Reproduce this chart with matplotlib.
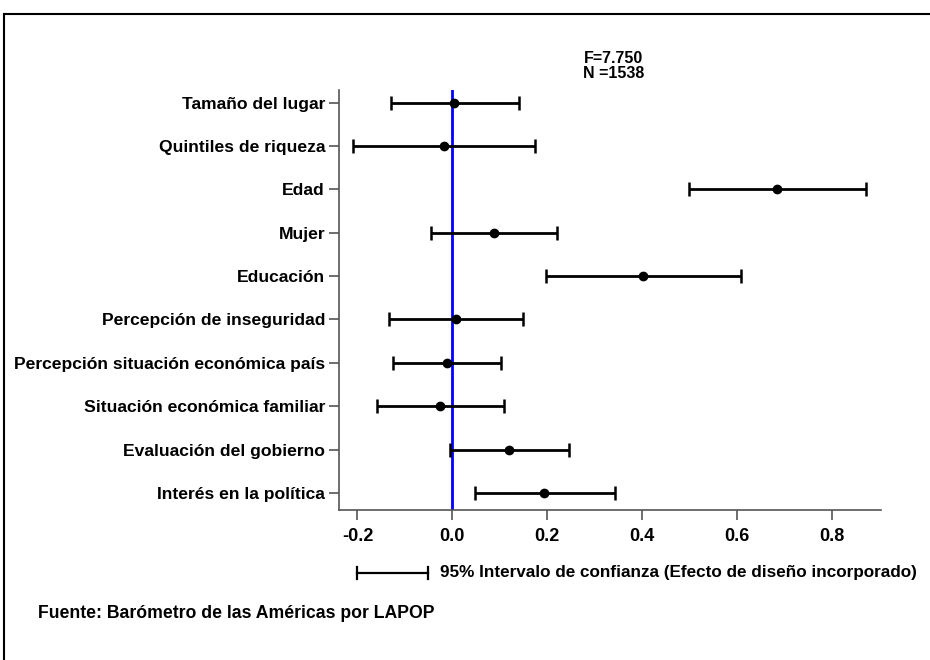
import numpy as np
import matplotlib as mpl; mpl.use('Agg'); import matplotlib.pyplot as plt
from matplotlib.lines import Line2D
mpl.rcParams.update({'font.family':['Liberation Sans','DejaVu Sans'],'font.weight':'bold'})

labels=['Tamaño del lugar','Quintiles de riqueza','Edad','Mujer','Educación',
        'Percepción de inseguridad','Percepción situación económica país',
        'Situación económica familiar','Evaluación del gobierno','Interés en la política']
coef=[0.004,-0.017,0.685,0.087,0.402,0.007,-0.012,-0.026,0.119,0.194]
lower=[-0.130,-0.210,0.498,-0.044,0.197,-0.133,-0.125,-0.158,-0.004,0.048]
upper=[0.140,0.175,0.873,0.221,0.609,0.148,0.103,0.108,0.245,0.343]
xticks=[-0.2,0.0,0.2,0.4,0.6,0.8]

fig=plt.figure(figsize=(9.3,6.6),dpi=100)
ax=fig.add_axes([0.3645,0.227,0.5825,0.637])
y=np.arange(1,len(labels)+1)
c=np.array(coef); err=[c-np.array(lower),np.array(upper)-c]
ax.axvline(0,color='#0000ff',lw=2,zorder=1)
ax.errorbar(c,y,xerr=err,fmt='o',color='black',ms=6,elinewidth=2,capsize=5,capthick=1.8,zorder=3)
ax.set_xlim(-0.239,0.903); ax.set_ylim(10.4,0.7)
ax.set_yticks(y); ax.set_yticklabels(labels,fontsize=12.6)
ax.set_xticks(xticks); ax.set_xticklabels([f'{v:.1f}' for v in xticks],fontsize=13)
for s in ['top','right']: ax.spines[s].set_visible(False)
for s in ['left','bottom']: ax.spines[s].set_color('#555555'); ax.spines[s].set_linewidth(1.2)
ax.tick_params(axis='y',color='#555555',length=7,width=1.2,pad=3)
ax.tick_params(axis='x',color='#555555',length=7,width=1.2,pad=6)
fig.text(0.66,0.911,'F=7.750',ha='center',va='center',fontsize=11.5)
fig.text(0.66,0.888,'N =1538',ha='center',va='center',fontsize=11.5)
# legend sample
fig.add_artist(Line2D([357/930,428/930],[1-573/660]*2,color='black',lw=1.6))
for xx in [357/930,428/930]:
    fig.add_artist(Line2D([xx,xx],[1-567/660,1-579/660],color='black',lw=1.6))
fig.text(440/930,1-573/660,'95% Intervalo de confianza (Efecto de diseño incorporado)',ha='left',va='center',fontsize=12.3)
fig.text(38/930,1-614/660,'Fuente: Barómetro de las Américas por LAPOP',ha='left',va='center',fontsize=12.7)
# outer frame
fig.add_artist(Line2D([4/930,1],[1-14/660]*2,color='black',lw=1.5))
fig.add_artist(Line2D([4/930]*2,[1-14/660,0],color='black',lw=1.5))
fig.savefig('out.png',dpi=100)
